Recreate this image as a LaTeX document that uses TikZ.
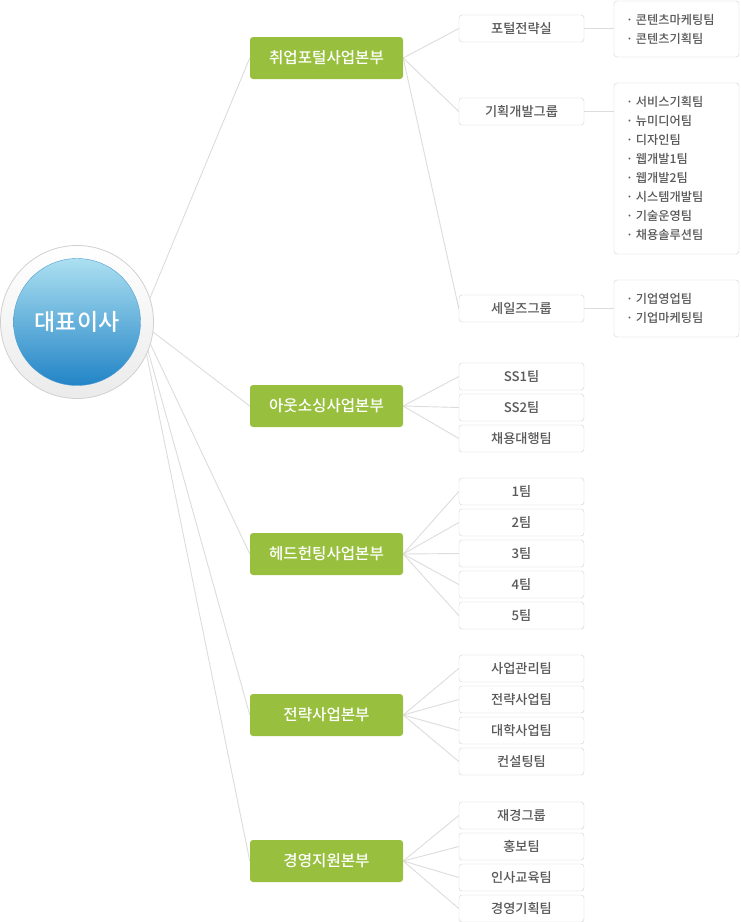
\documentclass[tikz,border=0pt]{standalone}
\usepackage{fontspec}
\setmainfont{Noto Sans CJK KR}
\newfontfamily\medfont{Noto Sans CJK KR Medium}
\usetikzlibrary{backgrounds}
\definecolor{deptgreen}{RGB}{152,192,62}
\definecolor{linegray}{RGB}{220,220,220}
\definecolor{boxgray}{RGB}{208,208,208}
\definecolor{textgray}{RGB}{88,88,88}
\definecolor{ceotop}{RGB}{172,224,241}
\definecolor{ceomid}{RGB}{64,166,216}
\definecolor{ceobot}{RGB}{34,132,198}
\newcommand{\dotitem}[1]{\makebox[10pt][l]{·}#1}

\begin{document}
\begin{tikzpicture}[x=1pt,y=-1pt,
        dept/.style={fill=deptgreen, rounded corners=3pt, minimum width=153pt, minimum height=42pt, inner sep=0pt, text=white, font=\medfont\fontsize{15.6}{17}\selectfont},
        team/.style={draw=boxgray, fill=white, rounded corners=3pt, minimum width=125pt, minimum height=27pt, inner sep=0pt, text=textgray, font=\medfont\fontsize{13.2}{15}\selectfont},
        unitlist/.style={draw=boxgray, fill=white, rounded corners=3pt, text width=101pt, inner xsep=12pt, inner ysep=0pt, align=left, text=textgray, font=\medfont\fontsize{12.2}{19}\selectfont},
        link/.style={draw=linegray, line width=0.9pt}]
        \useasboundingbox (0,0) rectangle (740,922);

        \node[circle, draw=boxgray, top color=white, bottom color=black!8, minimum size=153pt, line width=0.8pt] (ceo) at (77,322) {};
        \node[circle, top color=ceotop, middle color=ceomid, bottom color=ceobot, draw=ceobot!80, minimum size=127pt, text=white, font=\medfont\fontsize{23}{26}\selectfont] (ceoin) at (ceo) {대표이사};

        \node[dept] (portal) at (326.5,58) {취업포털사업본부};
        \node[dept] (outsrc) at (326.5,406) {아웃소싱사업본부};
        \node[dept] (head) at (326.5,554) {헤드헌팅사업본부};
        \node[dept] (strat) at (326.5,715) {전략사업본부};
        \node[dept] (mgmt) at (326.5,861) {경영지원본부};

        \node[team] (p1) at (521.5,28.5) {포털전략실};
        \node[team] (p2) at (521.5,111.5) {기획개발그룹};
        \node[team] (p3) at (521.5,308.5) {세일즈그룹};
        \foreach \t [count=\i] in {SS1팀,SS2팀,채용대행팀}
            \node[team] (o\i) at (521.5,345.5+31*\i) {\t};
        \foreach \t [count=\i] in {1팀,2팀,3팀,4팀,5팀}
            \node[team] (h\i) at (521.5,460.5+31*\i) {\t};
        \foreach \t [count=\i] in {사업관리팀,전략사업팀,대학사업팀,컨설팅팀}
            \node[team] (s\i) at (521.5,637.5+31*\i) {\t};
        \foreach \t [count=\i] in {재경그룹,홍보팀,인사교육팀,경영기획팀}
            \node[team] (m\i) at (521.5,784.5+31*\i) {\t};

        \node[unitlist, minimum height=56pt] (l1) at (676.5,29) {\dotitem{콘텐츠마케팅팀}\\ \dotitem{콘텐츠기획팀}};
        \node[unitlist, minimum height=171pt] (l2) at (676.5,168.5) {\dotitem{서비스기획팀}\\ \dotitem{뉴미디어팀}\\ \dotitem{디자인팀}\\ \dotitem{웹개발1팀}\\ \dotitem{웹개발2팀}\\ \dotitem{시스템개발팀}\\ \dotitem{기술운영팀}\\ \dotitem{채용솔루션팀}};
        \node[unitlist, minimum height=57pt] (l3) at (676.5,308.5) {\dotitem{기업영업팀}\\ \dotitem{기업마케팅팀}};

        \begin{pgfonlayer}{background}
            \coordinate (hub) at (140,322);
            \foreach \d in {portal,outsrc,head,strat,mgmt}
                \draw[link] (hub) -- (\d.west);
            \foreach \t in {p1,p2,p3}
                \draw[link] (portal.east) -- (\t.west);
            \foreach \t in {o1,o2,o3}
                \draw[link] (outsrc.east) -- (\t.west);
            \foreach \t in {h1,h2,h3,h4,h5}
                \draw[link] (head.east) -- (\t.west);
            \foreach \t in {s1,s2,s3,s4}
                \draw[link] (strat.east) -- (\t.west);
            \foreach \t in {m1,m2,m3,m4}
                \draw[link] (mgmt.east) -- (\t.west);
            \draw[link] (p1.east) -- (p1.east -| l1.west);
            \draw[link] (p2.east) -- (p2.east -| l2.west);
            \draw[link] (p3.east) -- (p3.east -| l3.west);
        \end{pgfonlayer}
    \end{tikzpicture}
\end{document}
